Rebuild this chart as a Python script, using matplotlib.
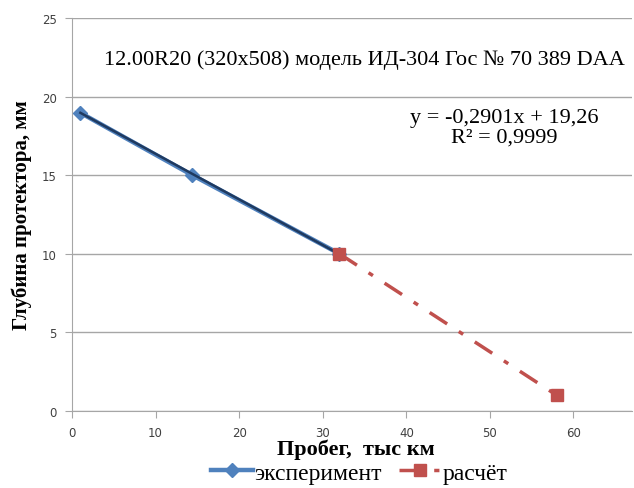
import numpy as np
import matplotlib
matplotlib.use("Agg")
import matplotlib.pyplot as plt

# данные
probeg_exp = [1, 14.4, 32]
glubina_exp = [18.97, 15.0, 10.0]
probeg_calc = [32, 58]
glubina_calc = [10.0, 1.0]
k_trend = -0.2901
b_trend = 19.26
x_ticks = [0, 10, 20, 30, 40, 50, 60]
y_ticks = [0, 5, 10, 15, 20, 25]

SERIF = "Liberation Serif"

fig = plt.figure(figsize=(6.34, 4.89), dpi=100)
ax = fig.add_axes([72/634, 1 - 412/489, 560/634, 393/489])

ax.plot(probeg_exp, glubina_exp, color="#4F81BD", lw=3.2, marker="D", ms=7,
        label="эксперимент", zorder=3)
xt = np.array([probeg_exp[0], probeg_exp[-1]])
ax.plot(xt, k_trend * xt + b_trend, color="#1F3A60", lw=1.8, zorder=4)
ax.plot(probeg_calc, glubina_calc, color="#C0504D", lw=2.5, ls=(0, (6, 4, 1.5, 4)),
        marker="s", ms=8, label="расчёт", zorder=5)

ax.set_xlim(0, 67)
ax.set_ylim(0, 25)
ax.set_xticks(x_ticks)
ax.set_yticks(y_ticks)
ax.grid(axis="y", color="#A6A6A6", lw=1)
ax.set_axisbelow(True)
for s in ["top", "right"]:
    ax.spines[s].set_visible(False)
for s in ["left", "bottom"]:
    ax.spines[s].set_color("#A6A6A6")
ax.tick_params(colors="#A6A6A6", labelcolor="#404040", labelsize=8.5, length=5)
ax.tick_params(axis="x", pad=6)
ax.tick_params(axis="y", pad=6)

ax.set_ylabel("Глубина протектора, мм", fontfamily=SERIF, fontweight="bold",
              fontsize=15, labelpad=7)
ax.set_xlabel("Пробег,  тыс км", fontfamily=SERIF, fontweight="bold",
              fontsize=16)
ax.xaxis.set_label_coords((356 - 72) / 560, (412 - 440) / 393)

ax.text(0.058, 0.895, "12.00R20 (320x508) модель ИД-304 Гос № 70 389 DAA",
        transform=ax.transAxes, fontfamily=SERIF, fontsize=16, va="center")
ax.text(0.771, 0.722, "y = -0,2901x + 19,26\nR² = 0,9999", transform=ax.transAxes,
        fontfamily=SERIF, fontsize=16, ha="center", va="center", linespacing=1.0)

leg = fig.legend(loc="center", bbox_to_anchor=(359/634, 1 - 474/489), ncol=2,
                 frameon=False, prop={"family": SERIF, "size": 17},
                 handlelength=1.8, columnspacing=0.7, handletextpad=0.05,
                 borderpad=0)

fig.savefig("out.png", dpi=100)
